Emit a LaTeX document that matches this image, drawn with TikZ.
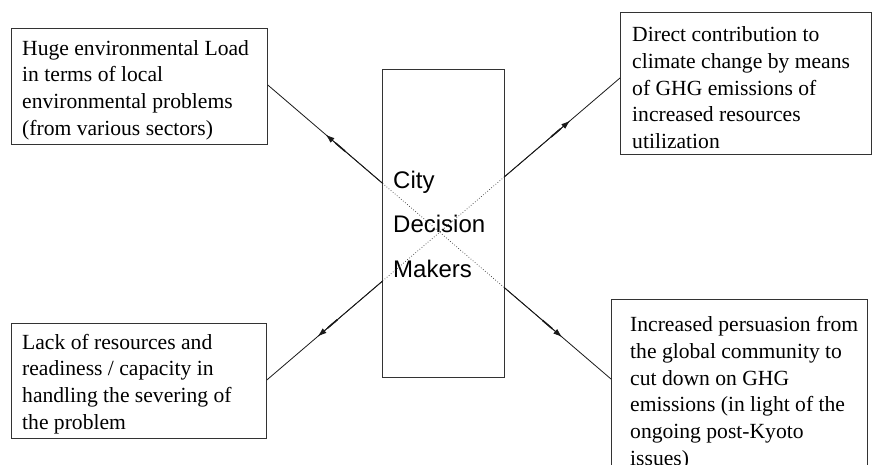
\documentclass[tikz,border=0pt]{standalone}
\usepackage{fontspec}
\setmainfont{Liberation Serif}
\setsansfont{Liberation Sans}
\usetikzlibrary{calc,arrows.meta}
\begin{document}
\begin{tikzpicture}[x=1pt,y=-1pt,
  box/.style={draw=black!80, line width=0.8pt, rectangle, inner sep=0pt, anchor=north west},
  txt/.style={anchor=base west, inner sep=0pt, align=left, font=\fontsize{21.6}{26.7}\selectfont},
  ctxt/.style={anchor=base west, inner sep=0pt, align=left, font=\sffamily\fontsize{24}{44.5}\selectfont},
  link/.style={line width=0.8pt, black!90},
  shaft/.style={line width=1.6pt, black!90},
  insideline/.style={line width=0.7pt, dotted, black!80},
  tip/.style={-{Latex[length=9pt,width=6pt]}}
]
\useasboundingbox (0,0) rectangle (872,464);
\clip (0,0) rectangle (872,464);
% boxes
\node[box, minimum width=256pt, minimum height=116pt] (tl) at (11,28) {};
\node[box, minimum width=251pt, minimum height=142pt] (tr) at (620,12) {};
\node[box, minimum width=255pt, minimum height=115pt] (bl) at (11,323) {};
\node[box, minimum width=256pt, minimum height=200pt] (br) at (611,299) {};
\node[box, minimum width=122pt, minimum height=308pt] (cdm) at (382,69) {};
% texts (anchored at the baseline of their last line)
\node[txt] (tlt) at (22,135.1) {Huge environmental Load\\in terms of local\\environmental problems\\(from various sectors)};
\node[txt] (trt) at (632,148.5) {Direct contribution to\\climate change by means\\of GHG emissions of\\increased resources\\utilization};
\node[txt] (blt) at (22,429.1) {Lack of resources and\\readiness / capacity in\\handling the severing of\\the problem};
\node[txt] (brt) at (630,465.2) {Increased persuasion from\\the global community to\\cut down on GHG\\emissions (in light of the\\ongoing post-Kyoto\\issues)};
\node[ctxt] (ct) at (393,277) {City\\Decision\\Makers};
% connector end points
\coordinate (a1) at ($(tl.north east)+(0,57)$);
\coordinate (a2) at ($(br.north west)+(0,80)$);
\coordinate (b1) at ($(tr.north west)+(0,66)$);
\coordinate (b2) at ($(bl.north east)+(0,57)$);
\coordinate (aIn) at ($(a1)!0.3343!(a2)$);
\coordinate (aOut) at ($(a1)!0.689!(a2)$);
\coordinate (aTipL) at ($(a1)!0.1686!(a2)$);
\coordinate (aTipR) at ($(a1)!0.8576!(a2)$);
\coordinate (aShL) at ($(a1)!0.225!(a2)$);
\coordinate (aShR) at ($(a1)!0.80!(a2)$);
\coordinate (bIn) at ($(b1)!0.3277!(b2)$);
\coordinate (bOut) at ($(b1)!0.6723!(b2)$);
\coordinate (bTipR) at ($(b1)!0.1412!(b2)$);
\coordinate (bTipL) at ($(b1)!0.856!(b2)$);
\coordinate (bShR) at ($(b1)!0.195!(b2)$);
\coordinate (bShL) at ($(b1)!0.80!(b2)$);
% line A
\draw[link] (a1) -- (aIn);
\draw[insideline] (aIn) -- (aOut);
\draw[link] (aOut) -- (a2);
\draw[shaft] (aShL) -- ($(aTipL)!0.5!(aShL)$);
\draw[shaft] (aShR) -- ($(aTipR)!0.5!(aShR)$);
\draw[link,tip] (aIn) -- (aTipL);
\draw[link,tip] (aOut) -- (aTipR);
% line B
\draw[link] (b1) -- (bIn);
\draw[insideline] (bIn) -- (bOut);
\draw[link] (bOut) -- (b2);
\draw[shaft] (bShR) -- ($(bTipR)!0.5!(bShR)$);
\draw[shaft] (bShL) -- ($(bTipL)!0.5!(bShL)$);
\draw[link,tip] (bIn) -- (bTipR);
\draw[link,tip] (bOut) -- (bTipL);
\end{tikzpicture}
\end{document}
